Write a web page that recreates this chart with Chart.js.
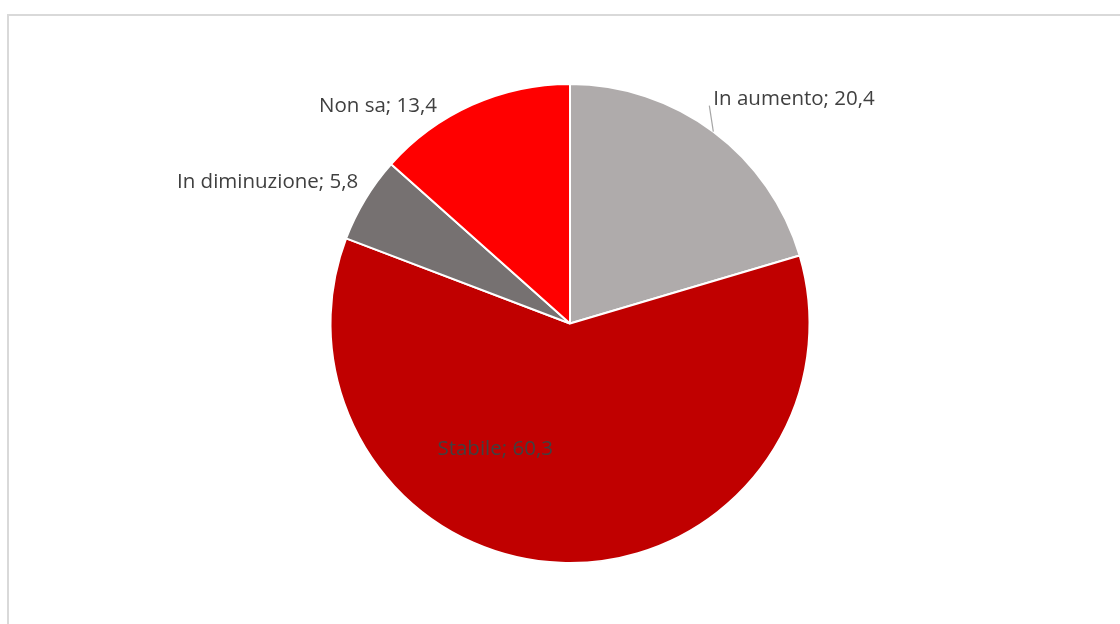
<!DOCTYPE html>
<html>
<head>
<meta charset="utf-8">
<script src="https://cdn.jsdelivr.net/npm/chart.js@4.4.1/dist/chart.umd.min.js"></script>
<style>
    html, body { margin: 0; padding: 0; background: #ffffff; overflow: hidden; }
    #frame {
        position: absolute; left: 7px; top: 14px;
        width: 1200px; height: 700px;
        border: 2px solid #D9D9D9;
    }
    #wrap { position: absolute; left: 0; top: 0; width: 1120px; height: 624px; }
</style>
</head>
<body>
<div id="frame"></div>
<div id="wrap"><canvas id="pie" width="1120" height="624"></canvas></div>
<script>
// data
const categories = [ 'In aumento', 'Stabile', 'In diminuzione', 'Non sa' ];
const values = [ 20.4, 60.3, 5.8, 13.4 ];
const sliceColors = [ '#AFABAB', '#C00000', '#767171', '#FF0000' ];

// label placement (relative to each arc's outer mid point), styling only
const labelPlacement = [
    { dx: 0, dy: -32, align: 'left', leader: true },
    { inside: true, fr: 0.61, angleShift: 0.5 },
    { dx: -7, dy: -17, align: 'right', leader: false },
    { dx: -35, dy: 1, align: 'right', leader: false }
];

const Colors = {
    text: '#404040',
    leader: '#A6A6A6',
    border: '#FFFFFF'
};

const fmt = v => String( v ).replace( '.', ',' );

const labelPlugin = {
    id: 'excelLabels',
    afterDatasetsDraw( chart ) {
        const 
            ctx = chart.ctx,
            meta = chart.getDatasetMeta( 0 );
        ctx.save();
        ctx.font = '20.5px "Open Sans"';
        ctx.fillStyle = Colors.text;
        ctx.textBaseline = 'middle';
        meta.data.forEach( ( arc, i ) => {
            const 
                p = labelPlacement[ i ],
                text = categories[ i ] + '; ' + fmt( values[ i ] ),
                mid = ( arc.startAngle + arc.endAngle ) / 2,
                R = arc.outerRadius;
            if ( p.inside ) {
                const a = mid + p.angleShift;
                ctx.textAlign = 'center';
                ctx.fillText( text, arc.x + Math.cos( a ) * R * p.fr, arc.y + Math.sin( a ) * R * p.fr );
                return;
            }
            const 
                ex = arc.x + Math.cos( mid ) * R,
                ey = arc.y + Math.sin( mid ) * R,
                lx = ex + p.dx,
                ly = ey + p.dy;
            if ( p.leader ) {
                ctx.strokeStyle = Colors.leader;
                ctx.lineWidth = 1.2;
                ctx.beginPath();
                ctx.moveTo( ex, ey );
                ctx.lineTo( lx - 4, ly + 6 );
                ctx.stroke();
            }
            ctx.textAlign = p.align;
            ctx.fillText( text, lx, ly );
        } );
        ctx.restore();
    }
};

new Chart( document.getElementById( 'pie' ).getContext( '2d' ), {
    type: 'pie',
    data: {
        labels: categories,
        datasets: [ {
            data: values,
            backgroundColor: sliceColors,
            borderColor: Colors.border,
            borderWidth: 2
        } ]
    },
    options: {
        responsive: false,
        animation: false,
        layout: { padding: { top: 83, bottom: 60, left: 20, right: 0 } },
        plugins: {
            legend: { display: false },
            tooltip: { enabled: false },
            title: { display: false }
        }
    },
    plugins: [ labelPlugin ]
} );
</script>
</body>
</html>
